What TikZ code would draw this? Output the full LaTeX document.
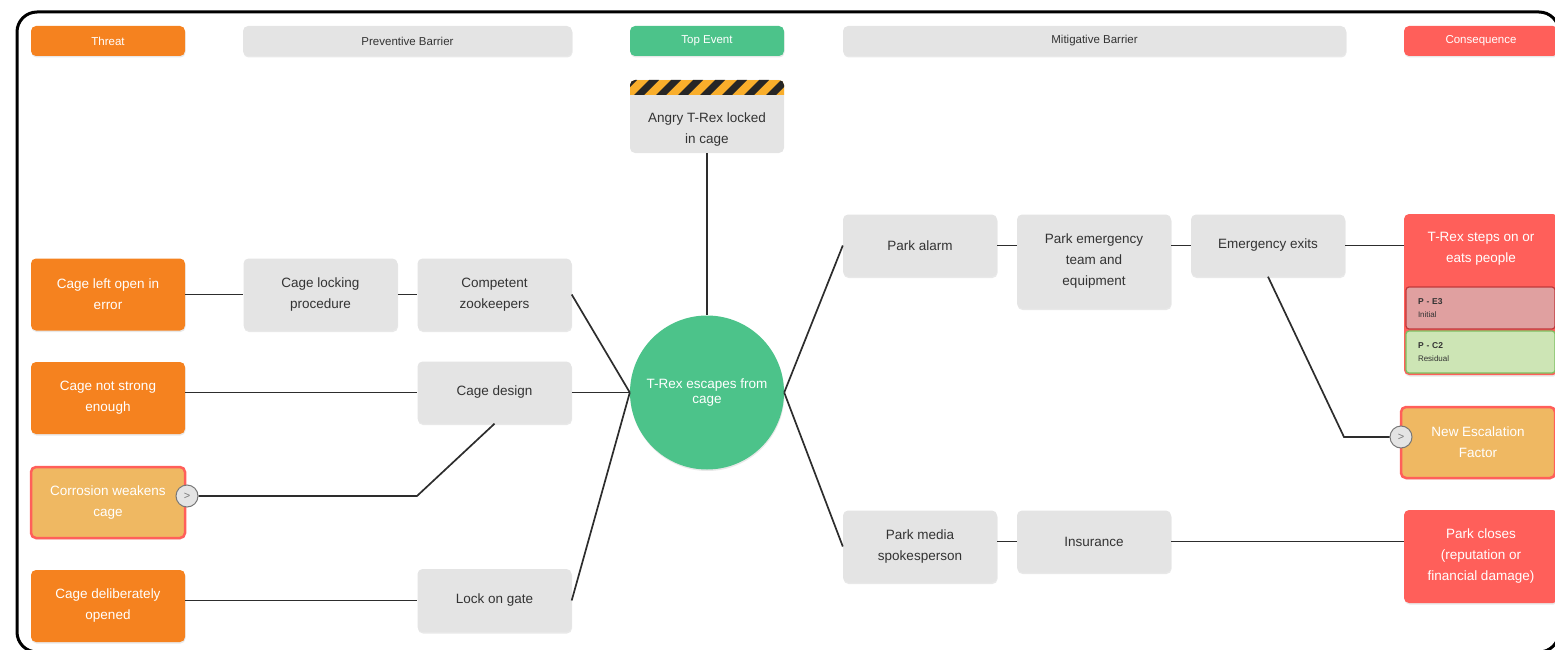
\documentclass[tikz,border=0pt]{standalone}
\usepackage{fontspec}
\setmainfont{Liberation Sans}
\usetikzlibrary{shadows,calc}

\definecolor{threatorange}{HTML}{F5821F}
\definecolor{barriergray}{HTML}{E4E4E4}
\definecolor{topgreen}{HTML}{4CC38A}
\definecolor{conseqred}{HTML}{FF5F5A}
\definecolor{escalfill}{HTML}{EFB862}
\definecolor{initialfill}{HTML}{E0A0A0}
\definecolor{initialdraw}{HTML}{C0393B}
\definecolor{residualfill}{HTML}{CDE5B5}
\definecolor{residualdraw}{HTML}{7CC062}
\definecolor{hazardyellow}{HTML}{F9AE2B}
\definecolor{buttongray}{HTML}{777777}
\definecolor{textdark}{HTML}{333333}
\definecolor{linedark}{HTML}{2D2D2D}

\begin{document}
\begin{tikzpicture}[
      x=1pt, y=-1pt,
      box/.style = {rounded corners=5pt, fill=barriergray, text=textdark, align=center,
                    minimum width=154pt, font=\fontsize{13.5}{21}\selectfont,
                    drop shadow={opacity=.18, shadow xshift=.5pt, shadow yshift=-1.5pt}},
      threat/.style = {box, fill=threatorange, text=white},
      conseq/.style = {box, fill=conseqred, text=white},
      escal/.style = {box, fill=escalfill, draw=conseqred, line width=2.5pt, text=white},
      header/.style = {box, minimum height=30pt, font=\fontsize{11.5}{14}\selectfont},
      hazard/.style = {rounded corners=5pt, fill=barriergray, minimum width=154pt, minimum height=73pt,
                       path picture={
                         \coordinate (hz) at (path picture bounding box.north west);
                         \fill[hazardyellow, sharp corners] (hz) rectangle ++(160,15);
                         \foreach \s in {0,...,8}
                           \fill[black!85, sharp corners] ($(hz)+(\s*22-18,15)$) -- ++(10,0) -- ++(15,-15) -- ++(-10,0) -- cycle;
                       }},
      risk/.style = {rounded corners=3pt, line width=1.2pt, minimum width=149pt, minimum height=42pt,
                     text width=125pt, align=left, text=textdark, font=\fontsize{8.5}{13}\selectfont},
      expand/.style = {circle, fill=barriergray, draw=buttongray, line width=1pt, minimum size=22pt,
                       inner sep=0pt, text=buttongray, font=\fontsize{11}{11}\selectfont},
      link/.style = {line width=1.7pt, draw=linedark}
    ]
    \def\bw{154}

    \useasboundingbox (0,0) rectangle (1555,650);
    \draw[line width=3pt, rounded corners=20pt] (17,12) rectangle (1559,652);

    % column headers
    \foreach \hname/\hx/\hw/\hcol/\htc/\htxt in {
        threathd/108/154/threatorange/white/Threat,
        prevhd/407.5/329/barriergray/textdark/Preventive Barrier,
        tophd/707/154/topgreen/white/Top Event,
        mitighd/1094.5/503/barriergray/textdark/Mitigative Barrier,
        conshd/1481/154/conseqred/white/Consequence}
      \node[header, fill=\hcol, text=\htc, minimum width=\hw pt] (\hname) at (\hx,41) {\htxt};

    % hazard and top event
    \node[hazard] (hazard) at (707,116.5) {};
    \node[text=textdark, align=center, font=\fontsize{13.5}{21}\selectfont] (hazardtxt) at (707,130)
      {Angry T-Rex locked\\in cage};
    \node[circle, fill=topgreen, minimum size=154pt, text=white, align=center,
          font=\fontsize{13.5}{15}\selectfont,
          drop shadow={opacity=.18, shadow xshift=.5pt, shadow yshift=-1.5pt}] (top) at (707,392.5)
      {T-Rex escapes from\\cage};

    % threats
    \node[threat, minimum height=72pt] (threat1) at (108,294.5) {Cage left open in\\error};
    \node[threat, minimum height=72pt] (threat2) at (108,398) {Cage not strong\\enough};
    \node[escal, minimum height=71pt] (threat3) at (108,502.5) {Corrosion weakens\\cage};
    \node[threat, minimum height=72pt] (threat4) at (108,606) {Cage deliberately\\opened};

    % preventive barriers
    \node[box, minimum height=72pt] (lockproc) at (320.5,294.5) {Cage locking\\procedure};
    \node[box, minimum height=72pt] (competent) at (494.5,294.5) {Competent\\zookeepers};
    \node[box, minimum height=62pt] (design) at (494.5,392.5) {Cage design};
    \node[box, minimum height=63pt] (lock) at (494.5,600.5) {Lock on gate};

    % mitigative barriers
    \node[box, minimum height=62pt] (alarm) at (920,245.5) {Park alarm};
    \node[box, minimum height=94pt] (pet) at (1094,261.5) {Park emergency\\team and\\equipment};
    \node[box, minimum height=62pt] (ee) at (1268,245.5) {Emergency exits};
    \node[box, minimum height=72pt] (media) at (920,546.5) {Park media\\spokesperson};
    \node[box, minimum height=62pt] (insur) at (1094,541.5) {Insurance};

    % consequences
    \node[conseq, minimum height=161pt] (steps) at (1481,294.5) {};
    \node[text=white, align=center, font=\fontsize{13.5}{21}\selectfont] (stepstxt) at (1481,249)
      {T-Rex steps on or\\eats people};
    \node[risk, fill=initialfill, draw=initialdraw] (initial) at (1480.5,308)
      {\textbf{P - E3}\\\fontsize{8}{13}\selectfont Initial};
    \node[risk, fill=residualfill, draw=residualdraw] (residual) at (1480.5,352)
      {\textbf{P - C2}\\\fontsize{8}{13}\selectfont Residual};
    \node[escal, minimum height=71pt] (newesc) at (1478,442.5) {New Escalation\\Factor};
    \node[conseq, minimum height=93pt] (closes) at (1481,556.5) {Park closes\\(reputation or\\financial damage)};

    % escalation buttons
    \node[expand] (corrbtn) at (187,496) {>};
    \node[expand] (escbtn) at (1401,437) {>};
    \coordinate (corrbend) at (417,496);
    \coordinate (escbend) at (1344,437);

    % left side
    \draw[link] (threat1) -- (lockproc);
    \draw[link] (lockproc) -- (competent);
    \draw[link] (competent.east) -- (top.west);
    \draw[link] (threat2.east |- design.west) -- (design.west);
    \draw[link] (design.east) -- (top.west);
    \draw[link] (corrbtn.east) -- (corrbend) -- (design.south);
    \draw[link] (threat4.east |- lock.west) -- (lock.west);
    \draw[link] (lock.east) -- (top.west);
    \draw[link] (hazard.south) -- (top.north);

    % right side
    \draw[link] (top.east) -- (alarm.west);
    \draw[link] (alarm.east) -- (alarm.east -| pet.west);
    \draw[link] (ee.west -| pet.east) -- (ee.west);
    \draw[link] (ee.east) -- (ee.east -| steps.west);
    \draw[link] (ee.south) -- (escbend) -- (escbtn.west);
    \draw[link] (top.east) -- (media.west);
    \draw[link] (media.east |- insur.west) -- (insur.west);
    \draw[link] (insur.east) -- (insur.east -| closes.west);
  \end{tikzpicture}
\end{document}
